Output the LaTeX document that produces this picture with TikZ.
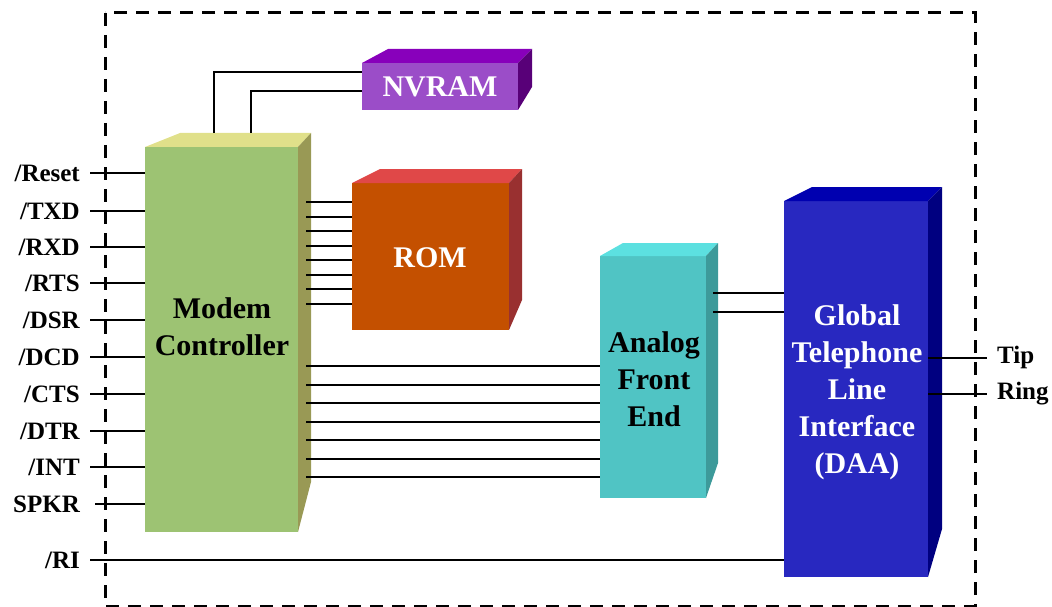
\documentclass[tikz,border=0pt]{standalone}
\usepackage{fontspec}
\setmainfont{Liberation Serif}
\definecolor{mcfront}{HTML}{9DC373}
\definecolor{mctop}{HTML}{E0E08A}
\definecolor{mcside}{HTML}{999955}
\definecolor{romfront}{HTML}{C45000}
\definecolor{romtop}{HTML}{E04848}
\definecolor{romside}{HTML}{993030}
\definecolor{nvfront}{HTML}{9B4DC8}
\definecolor{nvtop}{HTML}{8800BB}
\definecolor{nvside}{HTML}{580078}
\definecolor{afefront}{HTML}{50C4C4}
\definecolor{afetop}{HTML}{5CE0E0}
\definecolor{afeside}{HTML}{3D9A9A}
\definecolor{daafront}{HTML}{2828C0}
\definecolor{daatop}{HTML}{0000B0}
\definecolor{daaside}{HTML}{000080}
\begin{document}
\begin{tikzpicture}[x=1pt,y=-1pt,
  face/.style={draw=none,inner sep=0pt,outer sep=0pt,anchor=north west},
  lbl/.style={font=\fontsize{25}{30}\selectfont\bfseries,inner sep=0pt,anchor=base east},
  rlbl/.style={font=\fontsize{25}{30}\selectfont\bfseries,inner sep=0pt,anchor=base west},
  btxt/.style={font=\fontsize{30}{37}\selectfont\bfseries,align=center,inner sep=0pt},
  wire/.style={line width=2pt,line cap=butt},
  frame/.style={line width=3pt,dash pattern=on 13pt off 9pt}]
\useasboundingbox (0,0) rectangle (1052,607);

% dashed frame
\draw[frame] (105,13) rectangle (975,606);

% Modem controller
\node[face,fill=mcfront,minimum width=153pt,minimum height=385pt] (mc) at (145,147) {};
\fill[mctop] (mc.north west) -- (180,133) -- (311,133) -- (mc.north east) -- cycle;
\fill[mcside] (mc.north east) -- (311,133) -- (311,482) -- (mc.south east) -- cycle;
\node[btxt] (mct) at (222,327) {Modem\\Controller};

% ROM
\node[face,fill=romfront,minimum width=157pt,minimum height=147pt] (rom) at (352,183) {};
\fill[romtop] (rom.north west) -- (380,169) -- (522,169) -- (rom.north east) -- cycle;
\fill[romside] (rom.north east) -- (522,169) -- (522,300) -- (rom.south east) -- cycle;
\node[btxt,text=white] (romt) at (430,258) {ROM};

% NVRAM
\node[face,fill=nvfront,minimum width=156pt,minimum height=47pt] (nv) at (362,63) {};
\fill[nvtop] (nv.north west) -- (388,49) -- (532,49) -- (nv.north east) -- cycle;
\fill[nvside] (nv.north east) -- (532,49) -- (532,87) -- (nv.south east) -- cycle;
\node[btxt,text=white] (nvt) at (440,87) {NVRAM};

% Analog front end
\node[face,fill=afefront,minimum width=106pt,minimum height=242pt] (afe) at (600,256) {};
\fill[afetop] (afe.north west) -- (623,243) -- (718,243) -- (afe.north east) -- cycle;
\fill[afeside] (afe.north east) -- (718,243) -- (718,463) -- (afe.south east) -- cycle;
\node[btxt] (afet) at (654,379) {Analog\\Front\\End};

% DAA
\node[face,fill=daafront,minimum width=144pt,minimum height=376pt] (daa) at (784,201) {};
\fill[daatop] (daa.north west) -- (812,187) -- (942,187) -- (daa.north east) -- cycle;
\fill[daaside] (daa.north east) -- (942,187) -- (942,529) -- (daa.south east) -- cycle;
\node[btxt,text=white] (daat) at (857,392) {Global\\Telephone\\Line\\Interface\\(DAA)};

% NVRAM wires
\coordinate (mcTopA) at (214,133);
\coordinate (mcTopB) at (251,133);
\draw[wire] (mcTopA) |- ([yshift=14.5pt]nv.west);
\draw[wire] (mcTopB) |- ([yshift=-4.5pt]nv.west);

% ROM wires
\foreach \i in {0,...,7} {
  \coordinate (romw\i) at (306,{202+\i*14.5});
  \draw[wire] (romw\i) -- (romw\i -| rom.west);
}

% AFE wires
\foreach \i in {0,...,6} {
  \coordinate (afew\i) at (306,{366+\i*18.5});
  \draw[wire] (afew\i) -- (afew\i -| afe.west);
}

% AFE - DAA wires
\coordinate (ad1) at (713,293);
\coordinate (ad2) at (713,312);
\draw[wire] (ad1) -- (ad1 -| daa.west);
\draw[wire] (ad2) -- (ad2 -| daa.west);

% left inputs
\foreach \y/\x/\name in {173/90/{/Reset},211/90/{/TXD},247/90/{/RXD},283/90/{/RTS},320/90/{/DSR},357/90/{/DCD},394/90/{/CTS},431/90/{/DTR},467/90/{/INT},504/95/{SPKR}} {
  \node[lbl] (lab\y) at (80,{\y+8}) {\name};
  \coordinate (in\y) at (\x,\y);
  \draw[wire] (in\y) -- (in\y -| mc.west);
}
\node[lbl] (labRI) at (80,568) {/RI};
\coordinate (inRI) at (90,560);
\draw[wire] (inRI) -- (inRI -| daa.west);

% Tip / Ring
\coordinate (tipE) at (987,358);
\coordinate (ringE) at (987,394);
\draw[wire] (tipE -| daa.east) -- (tipE);
\draw[wire] (ringE -| daa.east) -- (ringE);
\node[rlbl] (tipl) at (997,363) {Tip};
\node[rlbl] (ringl) at (997,399) {Ring};
\end{tikzpicture}
\end{document}
